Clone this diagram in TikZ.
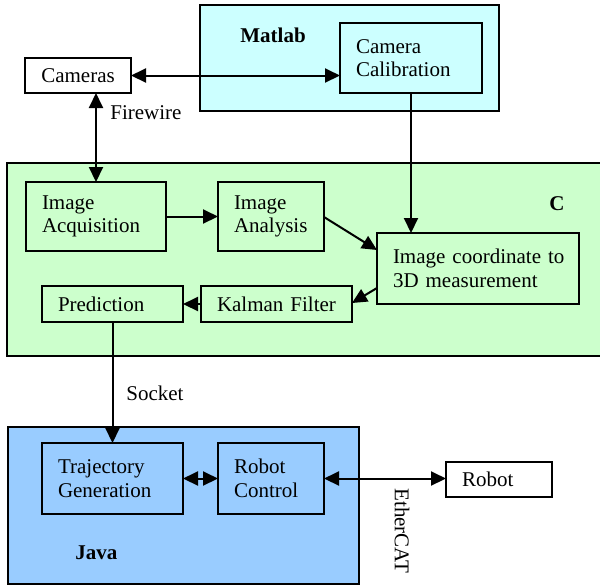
\documentclass[tikz,border=0pt]{standalone}
\usepackage{fontspec}
\setmainfont{Liberation Serif}
\usetikzlibrary{arrows.meta,calc}
\definecolor{matlabc}{HTML}{CCFFFF}
\definecolor{cc}{HTML}{CCFFCC}
\definecolor{javac}{HTML}{99CCFF}
\newcommand\ind{\hspace*{8pt}}
\tikzset{
  box/.style={draw=black, line width=1pt, minimum height=#1, inner ysep=0pt, inner xsep=0pt, outer sep=0pt},
  cont/.style={draw=black, line width=1pt, inner sep=0pt, outer sep=0pt},
  lbl/.style={inner sep=0pt, font=\fontsize{10.5}{11.8}\selectfont, align=left},
  conn/.style={line width=1pt, -{Triangle[length=7.5pt,width=7pt]}},
  dconn/.style={line width=1pt, {Triangle[length=7.5pt,width=7pt]}-{Triangle[length=7.5pt,width=7pt]}},
  txt/.style={font=\fontsize{10.5}{11.8}\selectfont, align=left}
}
\begin{document}
\begin{tikzpicture}[x=0.5pt,y=-0.5pt]
\useasboundingbox (0,0) rectangle (600,586);
% containers
\node[cont, fill=matlabc, minimum width=149.5pt, minimum height=53pt] (matlab) at (349.5,58) {};
\node[cont, fill=cc, minimum width=299.5pt, minimum height=96.5pt] (cbox) at (306.5,259.5) {};
\node[cont, fill=javac, minimum width=175.5pt, minimum height=78.5pt] (java) at (183.5,505.5) {};
% container labels
\node[lbl, font=\fontsize{10.5}{11.8}\selectfont\bfseries, anchor=west] (matlabl) at (240,35) {Matlab};
\node[lbl, font=\fontsize{10.5}{11.8}\selectfont\bfseries] (cl) at (557,204) {C};
\node[lbl, font=\fontsize{10.5}{11.8}\selectfont\bfseries, anchor=west] (javal) at (75,553) {Java};
% boxes
\node[box=17.5pt, fill=white, minimum width=53pt, txt, align=center] (cameras) at (78,75.5) {Cameras};
\node[box=35pt, fill=matlabc, txt, text width=71pt] (calib) at (411,58) {\ind Camera\\\ind Calibration};
\node[box=34.5pt, fill=cc, txt, text width=70pt] (acq) at (96,216.5) {\ind Image\\\ind Acquisition};
\node[box=34.5pt, fill=cc, txt, text width=53pt] (ana) at (271,216.5) {\ind Image\\\ind Analysis};
\node[box=35.5pt, fill=cc, txt, text width=101pt] (coord) at (478,268.5) {\ind Image coordinate to\\\ind 3D measurement};
\node[box=18pt, fill=cc, txt, text width=75.5pt] (kal) at (276.5,304) {\ind Kalman Filter};
\node[box=18pt, fill=cc, txt, text width=70.5pt] (pred) at (112.5,304) {\ind Prediction};
\node[box=35.5pt, fill=javac, txt, text width=70.5pt] (traj) at (112.5,478.5) {\ind Trajectory\\\ind Generation};
\node[box=35.5pt, fill=javac, txt, text width=53pt] (rc) at (271,478.5) {\ind Robot\\\ind Control};
\node[box=17.5pt, fill=white, txt, text width=53pt] (robot) at (499,479.5) {\ind Robot};
% connector labels
\node[lbl, anchor=west] (firewire) at (110,113) {Firewire};
\node[lbl, anchor=west] (socket) at (126,393) {Socket};
\node[lbl, rotate=-90] (ethercat) at (402,531) {EtherCAT};
% connectors
\draw[dconn] (cameras.east) -- (cameras.east -| calib.west);
\draw[dconn] (acq.north |- cameras.south) -- (acq.north);
\draw[conn] (calib.south) -- (calib.south |- coord.north);
\draw[conn] (acq.east) -- (acq.east -| ana.west);
\draw[conn] ($(ana.north east)+(0,35)$) -- ($(coord.north west)+(0,17)$);
\draw[conn] ($(coord.south west)+(0,-16)$) -- ($(kal.east)+(0,-1)$);
\draw[conn] (kal.west) -- (pred.east);
\draw[conn] (pred.south) -- (traj.north);
\draw[dconn] (traj.east) -- (rc.west);
\draw[dconn] (rc.east) -- (rc.east -| robot.west);
\end{tikzpicture}
\end{document}
